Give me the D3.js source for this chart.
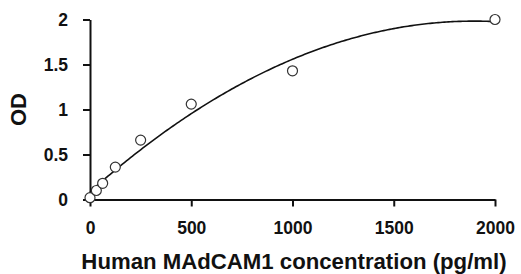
<!DOCTYPE html>
<html><head><meta charset="utf-8">
<script src="https://cdn.jsdelivr.net/npm/d3@7"></script>
<style>
html,body{margin:0;padding:0;background:#fff;}
text{font-family:"Liberation Sans",Arial,sans-serif;font-weight:bold;fill:#111;}
</style></head><body>
<svg id="c" width="521" height="274"></svg>
<script>
const concentrations = [0, 31.25, 62.5, 125, 250, 500, 1000, 2000];
const odValues = [0.02, 0.10, 0.18, 0.36, 0.66, 1.06, 1.43, 2.00];
const xTicks = [0, 500, 1000, 1500, 2000];
const yTicks = [0, 0.5, 1, 1.5, 2];
const xLabel = "Human MAdCAM1 concentration (pg/ml)";
const yLabel = "OD";

const svg = d3.select("#c");
const x = d3.scaleLinear().domain([0, 2000]).range([90, 495]);
const y = d3.scaleLinear().domain([0, 2]).range([199.5, 19.5]);

// least-squares polynomial trendline (degree 2) computed from the data
function polyfit(xs, ys, deg) {
  const n = deg + 1;
  const A = Array.from({length: n}, () => new Array(n + 1).fill(0));
  for (let k = 0; k < xs.length; k++) {
    for (let i = 0; i < n; i++) {
      for (let j = 0; j < n; j++) A[i][j] += Math.pow(xs[k], i + j);
      A[i][n] += ys[k] * Math.pow(xs[k], i);
    }
  }
  for (let i = 0; i < n; i++) {
    let p = i;
    for (let r = i + 1; r < n; r++) if (Math.abs(A[r][i]) > Math.abs(A[p][i])) p = r;
    [A[i], A[p]] = [A[p], A[i]];
    for (let r = 0; r < n; r++) {
      if (r === i) continue;
      const f = A[r][i] / A[i][i];
      for (let c = i; c <= n; c++) A[r][c] -= f * A[i][c];
    }
  }
  return A.map((row, i) => row[n] / row[i]);
}
const coef = polyfit(concentrations, odValues, 2);
const fitFn = v => coef.reduce((s, c, i) => s + c * Math.pow(v, i), 0);
const fitPts = d3.range(0, 2000.01, 10).map(v => [v, fitFn(v)]);

// axes
const xAxis = d3.axisBottom(x).tickValues(xTicks).tickSize(7).tickSizeOuter(0).tickPadding(15).tickFormat(d3.format("d"));
const yAxis = d3.axisLeft(y).tickValues(yTicks).tickSize(7).tickSizeOuter(0).tickPadding(15).tickFormat(d => d3.format("")(d));

const gx = svg.append("g").attr("transform", `translate(0,${y(0)})`).call(xAxis);
const gy = svg.append("g").attr("transform", `translate(${x(0)},0)`).call(yAxis);
[gx, gy].forEach(g => {
  g.selectAll("path").attr("stroke", "#111").attr("stroke-width", 2);
  g.selectAll("line").attr("stroke", "#111").attr("stroke-width", 2);
  g.selectAll("text").attr("font-size", 17.5).attr("font-family", "Liberation Sans, Arial, sans-serif").attr("font-weight", "bold").attr("fill", "#111");
});

// trendline
svg.append("path").datum(fitPts)
  .attr("fill", "none").attr("stroke", "#111").attr("stroke-width", 1.6)
  .attr("d", d3.line().x(d => x(d[0])).y(d => y(d[1])));

// points
svg.append("g").selectAll("circle").data(concentrations.map((c, i) => [c, odValues[i]]))
  .join("circle")
  .attr("cx", d => x(d[0])).attr("cy", d => y(d[1])).attr("r", 5)
  .attr("fill", "#fff").attr("stroke", "#333").attr("stroke-width", 1.2);

// labels
svg.append("text").attr("x", 294).attr("y", 269).attr("text-anchor", "middle")
  .attr("font-size", 22.2).text(xLabel);
svg.append("text").attr("transform", "translate(25.5,109.5) rotate(-90)").attr("text-anchor", "middle")
  .attr("font-size", 22).text(yLabel);
</script></body></html>
